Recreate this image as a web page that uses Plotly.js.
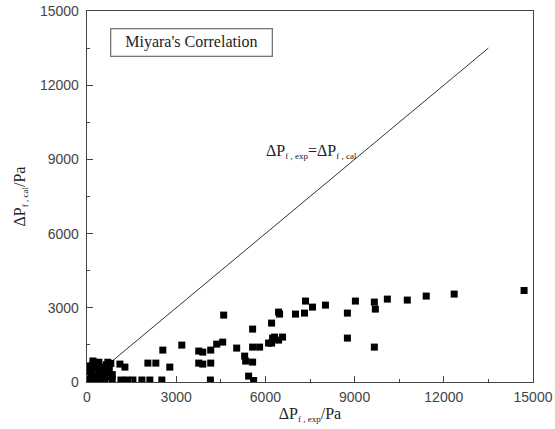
<!DOCTYPE html>
<html>
<head>
<meta charset="utf-8">
<script src="https://cdn.plot.ly/plotly-3.0.1.min.js"></script>
<style>html,body{margin:0;padding:0;background:#fff;}#chart{width:555px;height:429px;}</style>
</head>
<body>
<div id="chart"></div>
<script>
// Experimental vs calculated frictional pressure drop (Pa)
const dpExp = [
  100, 150, 200, 250, 300, 350, 400, 450, 500, 550, 600, 650, 700, 750, 800, 850, 100, 300, 600, 200, 700,
  50, 250, 450, 650, 850, 400, 150, 500,
  1107, 1275, 1141, 1342, 1544, 1846, 2114, 2517, 2047, 2315, 2550, 2785,
  3188, 3758, 3893, 4161, 4362, 4564, 3758, 3893, 4161, 4150, 4597,
  5034, 5302, 5336, 5570, 5436, 5604, 5570, 5570, 5805,
  6107, 6208, 6242, 6309, 6443, 6577, 6208, 6443, 6477, 7013, 7315, 7349, 7584, 8020,
  8758, 8758, 9027, 9664, 9698, 9664, 10101, 10772, 11409, 12349, 14700
];
const dpCal = [
  100, 400, 700, 250, 550, 150, 800, 350, 600, 50, 450, 700, 200, 550, 750, 300, 650, 50, 100, 850, 800,
  400, 50, 50, 450, 100, 300, 200, 150,
  724, 603, 80, 80, 80, 80, 80, 80, 764, 764, 1290, 603,
  1492, 1250, 1209, 1290, 1532, 1613, 764, 724, 764, 80, 2705,
  1371, 1047, 845, 804, 238, 60, 2139, 1411, 1411,
  1573, 1573, 1775, 1816, 1694, 1816, 2382, 2827, 2746, 2746, 2786, 3272, 3028, 3109,
  2786, 1775, 3272, 3231, 2948, 1411, 3352, 3312, 3474, 3555, 3700
];
// y = x reference line (start, end)
const identityLine = [0, 13500];

const serif = "Liberation Serif, Times New Roman, serif";
const sans = "Liberation Sans, Arial, sans-serif";

const traces = [
  {
    x: identityLine, y: identityLine, mode: 'lines', type: 'scatter',
    line: {color: '#333', width: 1}, hoverinfo: 'skip'
  },
  {
    x: dpExp, y: dpCal, mode: 'markers', type: 'scatter',
    marker: {symbol: 'square', size: 7, color: '#000'}
  }
];

const axisCommon = {
  range: [0, 15000], dtick: 3000, tick0: 0, tickformat: 'd',
  showgrid: false, zeroline: false,
  showline: true, linecolor: '#444', linewidth: 1.3, mirror: true,
  ticks: 'inside', ticklen: 6, tickcolor: '#444', tickwidth: 1,
  minor: {ticks: 'inside', ticklen: 3, dtick: 1500, tickcolor: '#444', showgrid: false},
  tickfont: {family: sans, size: 14, color: '#444'}
};

const layout = {
  width: 555, height: 429,
  margin: {l: 87, r: 22, t: 11, b: 47},
  paper_bgcolor: '#fff', plot_bgcolor: '#fff',
  showlegend: false,
  xaxis: Object.assign({}, axisCommon, {
    ticklabelstandoff: 2,
    title: {text: 'ΔP<sub><span style="font-size:9px">f , exp</span></sub>/Pa',
            font: {family: serif, size: 16, color: '#222'}, standoff: 0}
  }),
  yaxis: Object.assign({}, axisCommon, {
    ticklabelstandoff: 4,
    title: {text: 'ΔP<sub><span style="font-size:9px">f , cal</span></sub>/Pa',
            font: {family: serif, size: 16, color: '#222'}, standoff: 10}
  }),
  annotations: [
    {
      xref: 'paper', yref: 'paper', x: 0.052, y: 0.914, xanchor: 'left', yanchor: 'middle',
      text: "Miyara's Correlation", showarrow: false,
      width: 152, height: 18, align: 'center',
      font: {family: serif, size: 16, color: '#222'},
      bordercolor: '#777', borderwidth: 1.3, borderpad: 4,
      bgcolor: '#fff'
    },
    {
      xref: 'x', yref: 'y', x: 5950, y: 9300, xanchor: 'left', yanchor: 'middle',
      text: 'ΔP<sub><span style="font-size:9px">f , exp</span></sub>=ΔP<sub><span style="font-size:9px">f , cal</span></sub>',
      showarrow: false,
      font: {family: serif, size: 16, color: '#222'}
    }
  ]
};

Plotly.newPlot('chart', traces, layout, {staticPlot: true, displayModeBar: false});
</script>
</body>
</html>
